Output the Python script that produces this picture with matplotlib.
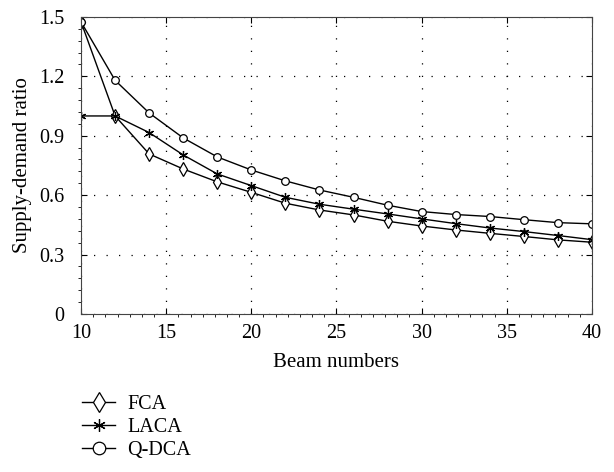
import matplotlib
matplotlib.use("Agg")
import matplotlib.pyplot as plt
from matplotlib.ticker import MultipleLocator
from matplotlib.lines import Line2D

beams = [10, 12, 14, 16, 18, 20, 22, 24, 26, 28, 30, 32, 34, 36, 38, 40]
fca = [1.475, 1.0, 0.808, 0.732, 0.667, 0.614, 0.559, 0.525, 0.500, 0.468,
       0.444, 0.424, 0.407, 0.391, 0.374, 0.362]
laca = [1.0, 1.0, 0.916, 0.803, 0.707, 0.648, 0.589, 0.554, 0.529, 0.505,
        0.480, 0.456, 0.434, 0.416, 0.396, 0.375]
qdca = [1.475, 1.18, 1.015, 0.889, 0.793, 0.727, 0.672, 0.626, 0.589, 0.549,
        0.517, 0.502, 0.492, 0.476, 0.461, 0.455]
names = ["FCA", "LACA", "Q-DCA"]

plt.rcParams['font.family'] = ['Liberation Serif', 'DejaVu Serif']
plt.rcParams['font.size'] = 14.5

fig = plt.figure(figsize=(6.14, 4.72), dpi=100)
ax = fig.add_axes([0.132, 0.335, 0.832, 0.629])

kw = dict(color='black', lw=1.0, markerfacecolor='white', markeredgecolor='black',
          markeredgewidth=0.9)
ax.plot(beams, fca, marker='d', markersize=7, **kw)
ax.plot(beams, laca, marker=(6, 2, 0), markersize=6.5, **kw)
ax.plot(beams, qdca, marker='o', markersize=5.5, **kw)

ax.set_xlim(10, 40)
ax.set_ylim(0, 1.5)
ax.set_xticks([10, 15, 20, 25, 30, 35, 40])
ax.set_yticks([0, 0.3, 0.6, 0.9, 1.2, 1.5])
ax.set_yticklabels(["0", "0.3", "0.6", "0.9", "1.2", "1.5"])
ax.xaxis.set_minor_locator(MultipleLocator(5 / 7))
ax.yaxis.set_minor_locator(MultipleLocator(0.06))
ax.tick_params(which='major', direction='in', length=4, width=0.8,
               top=True, right=True)
ax.tick_params(axis='x', which='major', pad=7)
ax.tick_params(axis='y', which='major', pad=12)
ax.tick_params(which='minor', direction='out', length=2, width=0.6,
               top=False, right=False)
ax.grid(True, which='major', linestyle=(0, (1, 9)), color='black', lw=0.9)
for s in ax.spines.values():
    s.set_linewidth(0.8)
    s.set_color('#444444')

ax.set_xlabel("Beam numbers", fontsize=15)
ax.set_ylabel("Supply-demand ratio", fontsize=15)
ax.xaxis.set_label_coords(0.5, -0.132)
ax.yaxis.set_label_coords(-0.096, 0.5)

handles = [
    Line2D([], [], marker='d', markersize=10, **kw),
    Line2D([], [], marker=(6, 2, 0), markersize=9, **kw),
    Line2D([], [], marker='o', markersize=9, **kw),
]
fig.legend(handles, names, loc='upper left', bbox_to_anchor=(0.1336, 0.163),
           frameon=False, handlelength=1.65, handletextpad=0.6,
           labelspacing=0.2, borderpad=0, borderaxespad=0)

fig.savefig("out.png", dpi=100)
